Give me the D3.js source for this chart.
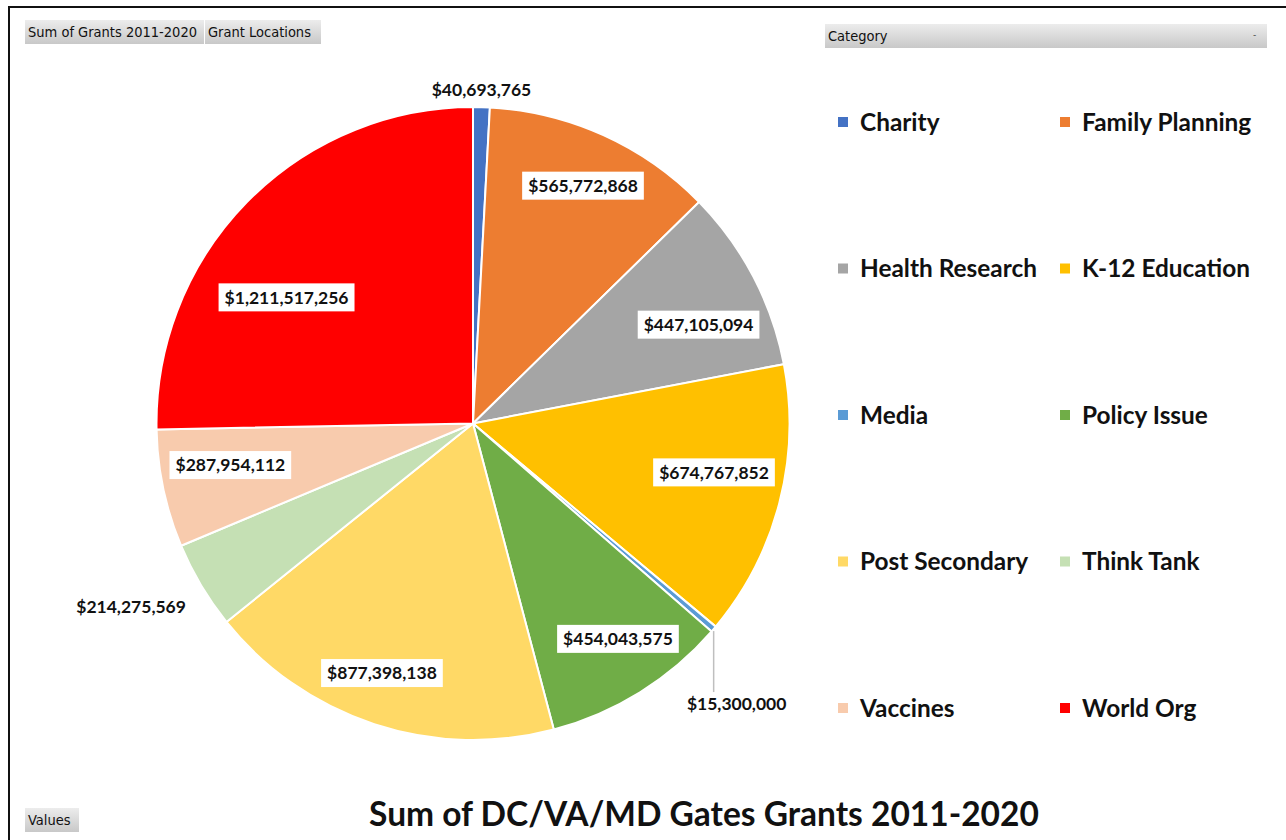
<!DOCTYPE html>
<html>
<head>
<meta charset="utf-8">
<script src="https://cdn.jsdelivr.net/npm/d3@7"></script>
<style>
  body { margin: 0; background: #fff; }
  svg { display: block; }
</style>
</head>
<body>
<div id="container"></div>
<script>
// chart data
const categories = ["Charity", "Family Planning", "Health Research", "K-12 Education", "Media",
  "Policy Issue", "Post Secondary", "Think Tank", "Vaccines", "World Org"];
const grants = [40693765, 565772868, 447105094, 674767852, 15300000,
  454043575, 877398138, 214275569, 287954112, 1211517256];
const colors = ["#4472C4", "#ED7D31", "#A5A5A5", "#FFC000", "#5B9BD5",
  "#70AD47", "#FFD966", "#C5E0B4", "#F8CBAD", "#FF0000"];
const title = "Sum of DC/VA/MD Gates Grants 2011-2020";

const w = 1286, h = 840;
const cx = 473, cy = 423.5, r = 316.5;

const svg = d3.select("#container").append("svg").attr("width", w).attr("height", h);

// frame
svg.append("path").attr("d", `M9,${h} L9,7 L${w},7`).attr("fill", "none").attr("stroke", "#111").attr("stroke-width", 2);

// pivot-style buttons
const grad = svg.append("defs").append("linearGradient").attr("id", "btn").attr("x1", 0).attr("y1", 0).attr("x2", 0).attr("y2", 1);
grad.append("stop").attr("offset", "0%").attr("stop-color", "#ececec");
grad.append("stop").attr("offset", "100%").attr("stop-color", "#c8c8c8");

function button(x, y, bw, label) {
  svg.append("rect").attr("x", x).attr("y", y).attr("width", bw).attr("height", 24).attr("fill", "url(#btn)");
  svg.append("text").attr("x", x + 3).attr("y", y + 17).text(label)
    .style("font-family", "'DejaVu Sans Condensed', 'DejaVu Sans', sans-serif").style("font-size", "14.5px").attr("fill", "#111");
}
button(25, 20, 179, "Sum of Grants 2011-2020");
button(205, 20, 116, "Grant Locations");
button(825, 24, 442, "Category");
button(25, 808, 54, "Values");
svg.append("text").attr("x", 1253).attr("y", 38).text("-").style("font-size", "9px").style("font-family", "DejaVu Sans").attr("fill", "#444");

// pie
const color = d3.scaleOrdinal().domain(categories).range(colors);
const pie = d3.pie().sort(null).value(d => d.value);
const data = categories.map((c, i) => ({ name: c, value: grants[i] }));
const arcs = pie(data);
const total = d3.sum(grants);
const arc = d3.arc().innerRadius(0).outerRadius(r);
const labelArc = d3.arc().innerRadius(r * 0.79).outerRadius(r * 0.79);
const edgeArc = d3.arc().innerRadius(r).outerRadius(r);

const g = svg.append("g").attr("transform", `translate(${cx},${cy})`);
g.selectAll("path.slice").data(arcs).enter().append("path")
  .attr("class", "slice")
  .attr("d", arc)
  .attr("fill", d => color(d.data.name))
  .attr("stroke", "#fff").attr("stroke-width", 2).attr("stroke-linejoin", "round");

const fmt = d3.format("$,");
const labelFont = "Lato, 'Open Sans', sans-serif";

// best-fit style nudges for inside labels (px from centroid)
const nudge = {
  "Family Planning": [7, -10], "Health Research": [4, 17], "K-12 Education": [-1, -14],
  "Policy Issue": [13, 3], "Post Secondary": [-13, 12], "Vaccines": [2, -10], "World Org": [-8, 49]
};
// small slices get callouts outside the pie
const callout = {
  "Charity": [0, -17, false],
  "Media": [23, 75, true],
  "Think Tank": [-70, 21, false]
};

arcs.forEach(d => {
  const share = d.value / total;
  if (share >= 0.05) {
    const [x0, y0] = labelArc.centroid(d);
    const [nx, ny] = nudge[d.data.name] || [0, 0];
    const x = x0 + nx, y = y0 + ny;
    const t = g.append("text").attr("x", x).attr("y", y).attr("dy", "0.35em")
      .attr("text-anchor", "middle").text(fmt(d.value))
      .style("font-family", labelFont).style("font-weight", "bold").style("font-size", "17.5px").attr("fill", "#111");
    const b = t.node().getBBox();
    g.insert("rect", () => t.node()).attr("x", b.x - 6).attr("y", y - 14).attr("width", b.width + 12).attr("height", 28).attr("fill", "#fff");
  } else {
    const [ex, ey] = edgeArc.centroid(d);
    const [ox, oy, line] = callout[d.data.name];
    if (line) {
      g.append("line").attr("x1", ex).attr("y1", ey + 2).attr("x2", ex).attr("y2", ey + oy - 12)
        .attr("stroke", "#bfbfbf").attr("stroke-width", 1.5);
    }
    g.append("text").attr("x", ex + ox).attr("y", ey + oy).attr("dy", "0.35em")
      .attr("text-anchor", "middle").text(fmt(d.value))
      .style("font-family", labelFont).style("font-weight", "bold").style("font-size", "17.5px").attr("fill", "#111");
  }
});

// legend
const legend = svg.append("g");
const colX = [838, 1060];
const rowY = d3.scaleLinear().domain([0, 4]).range([122, 708]);
categories.forEach((c, i) => {
  const x = colX[i % 2], y = rowY(Math.floor(i / 2));
  legend.append("rect").attr("x", x).attr("y", y - 5).attr("width", 10).attr("height", 10).attr("fill", color(c));
  legend.append("text").attr("x", x + 22).attr("y", y).attr("dy", "0.35em").text(c)
    .style("font-family", labelFont).style("font-weight", "bold").style("font-size", "24.4px").attr("fill", "#111");
});

// title
svg.append("text").attr("x", 704).attr("y", 814).attr("dy", "0.35em").attr("text-anchor", "middle").text(title)
  .style("font-family", labelFont).style("font-weight", "bold").style("font-size", "33.5px").attr("fill", "#111");
</script>
</body>
</html>
